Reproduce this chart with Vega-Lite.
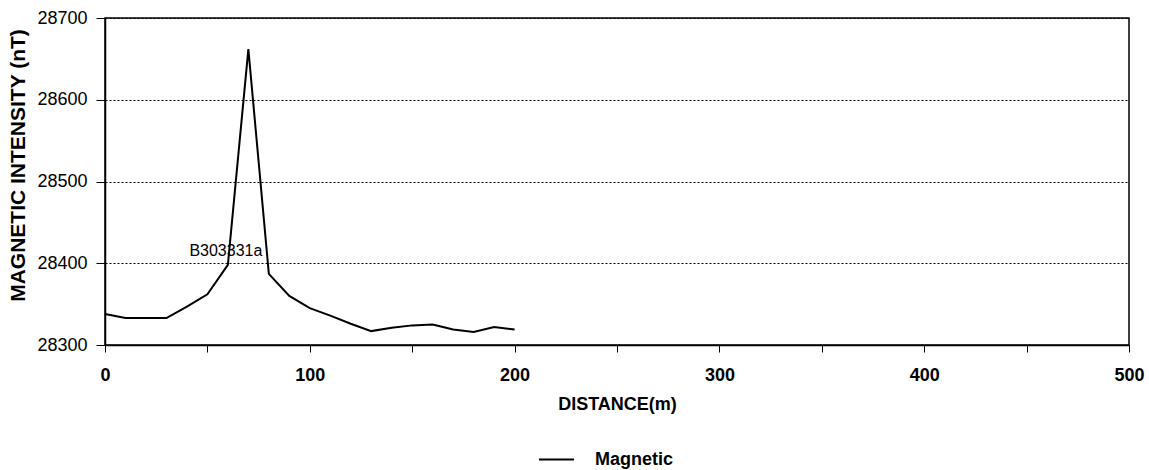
{
  "$schema": "https://vega.github.io/schema/vega-lite/v6.json",
  "width": 1024,
  "height": 327,
  "autosize": {"type": "none"},
  "padding": {"left": 105, "top": 18, "right": 20, "bottom": 125},
  "background": "white",
  "config": {
    "font": "Liberation Sans",
    "view": {"stroke": "black", "strokeWidth": 1.5}
  },
  "datasets": {
    "mag": [
      {"distance": 0, "value": 28338, "series": "Magnetic"},
      {"distance": 10, "value": 28333, "series": "Magnetic"},
      {"distance": 20, "value": 28333, "series": "Magnetic"},
      {"distance": 30, "value": 28333, "series": "Magnetic"},
      {"distance": 40, "value": 28347, "series": "Magnetic"},
      {"distance": 50, "value": 28362, "series": "Magnetic"},
      {"distance": 60, "value": 28398, "series": "Magnetic"},
      {"distance": 70, "value": 28662, "series": "Magnetic"},
      {"distance": 80, "value": 28387, "series": "Magnetic"},
      {"distance": 90, "value": 28360, "series": "Magnetic"},
      {"distance": 100, "value": 28345, "series": "Magnetic"},
      {"distance": 110, "value": 28336, "series": "Magnetic"},
      {"distance": 120, "value": 28326, "series": "Magnetic"},
      {"distance": 130, "value": 28317, "series": "Magnetic"},
      {"distance": 140, "value": 28321, "series": "Magnetic"},
      {"distance": 150, "value": 28324, "series": "Magnetic"},
      {"distance": 160, "value": 28325, "series": "Magnetic"},
      {"distance": 170, "value": 28319, "series": "Magnetic"},
      {"distance": 180, "value": 28316, "series": "Magnetic"},
      {"distance": 190, "value": 28322, "series": "Magnetic"},
      {"distance": 200, "value": 28319, "series": "Magnetic"}
    ],
    "labels": [
      {"distance": 60, "value": 28398, "label": "B303331a"}
    ]
  },
  "layer": [
    {
      "data": {"name": "mag"},
      "mark": {"type": "line", "strokeWidth": 2},
      "encoding": {
        "x": {
          "field": "distance",
          "type": "quantitative",
          "scale": {"domain": [0, 500], "nice": false, "zero": false},
          "axis": {
            "title": "DISTANCE(m)",
            "values": [0, 50, 100, 150, 200, 250, 300, 350, 400, 450, 500],
            "labelExpr": "datum.value % 100 === 0 ? datum.label : ''",
            "grid": false,
            "domainColor": "black",
            "domainWidth": 1.5,
            "tickColor": "black",
            "tickSize": 7,
            "labelFont": "Liberation Sans",
            "labelFontSize": 18,
            "labelFontWeight": "bold",
            "labelColor": "black",
            "labelPadding": 14,
            "labelFlush": false,
            "titleFont": "Liberation Sans",
            "titleFontSize": 18,
            "titleFontWeight": "bold",
            "titleColor": "black",
            "titlePadding": 11
          }
        },
        "y": {
          "field": "value",
          "type": "quantitative",
          "scale": {"domain": [28300, 28700], "nice": false, "zero": false},
          "axis": {
            "title": "MAGNETIC INTENSITY (nT)",
            "values": [28300, 28400, 28500, 28600, 28700],
            "format": "d",
            "grid": true,
            "gridColor": "black",
            "gridDash": [2, 2],
            "gridWidth": 1,
            "domainColor": "black",
            "domainWidth": 1.5,
            "tickColor": "black",
            "tickSize": 9,
            "labelFont": "Liberation Sans",
            "labelFontSize": 18,
            "labelColor": "black",
            "labelPadding": 9,
            "titleFont": "Liberation Sans",
            "titleFontSize": 21,
            "titleFontWeight": "bold",
            "titleColor": "black",
            "titleAngle": -90,
            "titleAlign": "center",
            "titleBaseline": "bottom",
            "titleX": -77,
            "titleY": 147
          }
        },
        "color": {
          "field": "series",
          "type": "nominal",
          "scale": {"range": ["black"]},
          "legend": {
            "title": null,
            "orient": "none",
            "legendX": 433,
            "legendY": 423,
            "symbolType": "stroke",
            "symbolSize": 1225,
            "symbolStrokeWidth": 2,
            "labelFont": "Liberation Sans",
            "labelFontSize": 18,
            "labelFontWeight": "bold",
            "labelColor": "black",
            "labelOffset": 20
          }
        }
      }
    },
    {
      "data": {"name": "labels"},
      "mark": {"type": "text", "font": "Liberation Sans", "fontSize": 16, "color": "black", "align": "center", "baseline": "middle", "dx": -2, "dy": -14},
      "encoding": {
        "x": {"field": "distance", "type": "quantitative"},
        "y": {"field": "value", "type": "quantitative"},
        "text": {"field": "label"}
      }
    }
  ]
}
